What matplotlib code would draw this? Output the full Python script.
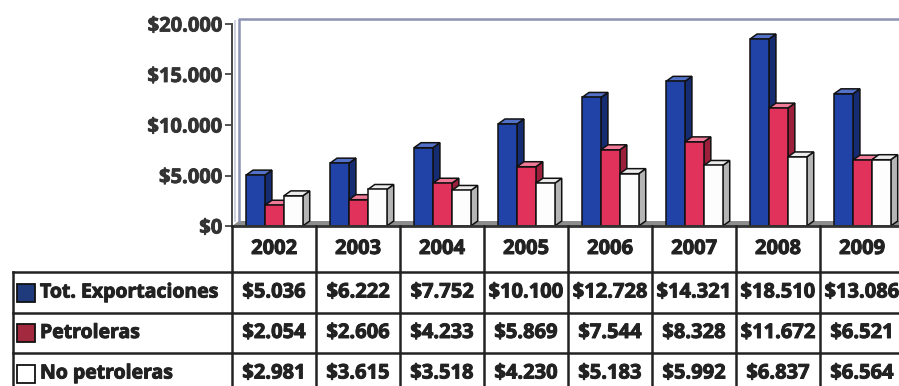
import numpy as np
import matplotlib.pyplot as plt
import matplotlib.patheffects as pe
from matplotlib.patches import Polygon, Rectangle

# Exportaciones (millones de US$)
years = ["2002", "2003", "2004", "2005", "2006", "2007", "2008", "2009"]
total = [5036, 6222, 7752, 10100, 12728, 14321, 18510, 13086]
petroleras = [2054, 2606, 4233, 5869, 7544, 8328, 11672, 6521]
no_petroleras = [2981, 3615, 3518, 4230, 5183, 5992, 6837, 6564]
series_names = ["Tot. Exportaciones", "Petroleras", "No petroleras"]
yticks = [0, 5000, 10000, 15000, 20000]

def money(v):
    return "$" + "{:,.0f}".format(v).replace(",", ".")

plt.rcParams['font.family'] = ['Open Sans', 'DejaVu Sans']
FS = 14.5
heavy = [pe.withStroke(linewidth=0.7, foreground="#222222")]

W, H = 899, 386
fig = plt.figure(figsize=(W / 100, H / 100), dpi=100)

# layout in pixels
left, right = 232, 904
y_top, y_zero, y_bot = 24, 226, 394
col_px = (right - left) / len(years)

ax = fig.add_axes([left / W, (H - y_zero) / H, (right - left) / W, (y_zero - y_top) / H])
ax.set_xlim(-0.5, len(years) - 0.5)
ax.set_ylim(0, 20000)

# 3d depth, px -> data units
dx = 7 / col_px
dy = 5 * 20000 / (y_zero - y_top)

# floor and back wall
ax.add_patch(Polygon([(-0.5, 0), (7.5, 0), (7.5 + dx, dy), (-0.5 + dx, dy)],
                     closed=True, fc="#8d8d8d", ec="none", zorder=1, clip_on=False))
ax.plot([-0.5 + dx, -0.5 + dx, 7.6], [dy, 20000 + dy, 20000 + dy],
        color="#8c93b3", lw=1.8, clip_on=False, zorder=1)
ax.plot([-0.5 + 3 / col_px] * 2, [dy, 20000 + dy * 0.6],
        color="#c5c9da", lw=1.2, clip_on=False, zorder=1)

faces = [("#2142a6", "#162c72", "#5471c8"),
         ("#e1325c", "#9c1f3b", "#f07a98"),
         ("#fdfdfd", "#b5b5b5", "#ececec")]
bw = 0.225
offsets = [-0.333, -0.108, 0.117]

def bar3d(x, h, cols, z):
    f, s, t = cols
    kw = dict(closed=True, ec="#111111", lw=1.1, zorder=z, clip_on=False)
    ax.add_patch(Polygon([(x + bw, 0), (x + bw + dx, dy), (x + bw + dx, h + dy), (x + bw, h)], fc=s, **kw))
    ax.add_patch(Polygon([(x, h), (x + bw, h), (x + bw + dx, h + dy), (x + dx, h + dy)], fc=t, **kw))
    ax.add_patch(Polygon([(x, 0), (x + bw, 0), (x + bw, h), (x, h)], fc=f, **kw))

for i in range(len(years)):
    for k, vals in enumerate([total, petroleras, no_petroleras]):
        bar3d(i + offsets[k], vals[i], faces[k], 3 + i * 3 + k)

ax.set_xticks([])
ax.set_yticks(yticks)
ax.set_yticklabels([money(v) for v in yticks])
ax.tick_params(axis="y", length=5, width=1.3, color="#444444", pad=2,
               labelsize=FS, labelcolor="#333333")
for lbl in ax.get_yticklabels():
    lbl.set_fontweight("bold")
    lbl.set_path_effects([pe.withStroke(linewidth=0.6, foreground="#333333")])
for sp in ["top", "right"]:
    ax.spines[sp].set_visible(False)
ax.spines["left"].set_color("#444444")
ax.spines["left"].set_linewidth(1.4)
ax.spines["bottom"].set_color("#333333")
ax.spines["bottom"].set_linewidth(2)
ax.spines["bottom"].set_zorder(50)

# data table below the bars
tab = fig.add_axes([left / W, (H - y_bot) / H, (right - left) / W, (y_bot - y_zero) / H])
tab.set_xlim(-0.5, len(years) - 0.5)
tab.set_ylim(y_bot - y_zero, 0)
tab.axis("off")

rows = [46, 87, 127, 168]
x_leg = -0.5 - (left - 13) / col_px
lc = "#222222"
for i in range(len(years) + 1):
    tab.plot([i - 0.5, i - 0.5], [0, rows[-1]], color=lc, lw=1.8, clip_on=False)
for y in rows:
    tab.plot([x_leg, 7.5], [y, y], color=lc, lw=1.8, clip_on=False)
tab.plot([x_leg, x_leg], [rows[0], rows[-1]], color=lc, lw=1.8, clip_on=False)

for i, yr in enumerate(years):
    tab.text(i, rows[0] / 2, yr, ha="center", va="center", fontsize=FS,
             fontweight="bold", color="#222222", path_effects=heavy)

legend_cols = ["#1f3b7c", "#a32a3e", "white"]
for r, (name, vals) in enumerate(zip(series_names, [total, petroleras, no_petroleras])):
    yc = (rows[r] + rows[r + 1]) / 2
    sq = 18
    tab.add_patch(Rectangle((x_leg + 4 / col_px, yc - sq / 2), sq / col_px, sq,
                            fc=legend_cols[r], ec="#111111", lw=1.3, clip_on=False))
    tab.text(x_leg + 27 / col_px, yc, name, ha="left", va="center", fontsize=14,
             fontweight="bold", color="#222222", clip_on=False, path_effects=heavy)
    for i, v in enumerate(vals):
        tab.text(i, yc, money(v), ha="center", va="center", fontsize=FS,
                 fontweight="bold", color="#222222", path_effects=heavy)

fig.savefig("out.png", dpi=100)
